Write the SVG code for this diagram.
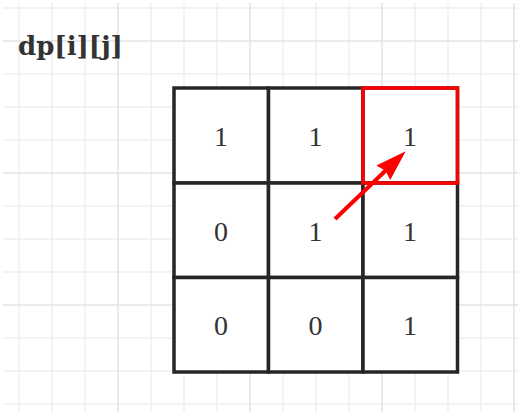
<svg xmlns="http://www.w3.org/2000/svg" width="521" height="415" viewBox="0 0 521 415">
<style>
.minor{stroke:#efefef;stroke-width:1.5;fill:none}
.major{stroke:#e3e3e3;stroke-width:1.5;fill:none}
.cell{fill:#ffffff;stroke:#262626;stroke-width:3.5}
.hot{fill:none;stroke:#ff0000;stroke-width:3.5}
.num{font-family:"Liberation Serif","Times New Roman",serif;font-size:28px;fill:#333333;text-anchor:middle;dominant-baseline:central}
.title{font-family:"DejaVu Serif",serif;font-weight:bold;font-size:26px;fill:#333333}
.arrow{stroke:#ff0000;stroke-width:4;fill:none}
</style>
<defs>
<marker id="head" markerUnits="userSpaceOnUse" viewBox="-6 -11 34 22" refX="0" refY="0" markerWidth="34" markerHeight="22" orient="auto">
<path d="M-4,-10 L27,0 L-4,10 L-1,0 Z" fill="#ff0000"/>
</marker>
</defs>
<rect width="521" height="415" fill="#ffffff"/>
<g id="grid">
<path class="minor" d="M19,3V412M52,3V412M85,3V412M151,3V412M184,3V412M217,3V412M283,3V412M316,3V412M349,3V412M415,3V412M448,3V412M481,3V412M3,8H518M3,74H518M3,107H518M3,140H518M3,206H518M3,239H518M3,272H518M3,338H518M3,371H518M3,404H518"/>
<path class="major" d="M118,3V412M250,3V412M382,3V412M514,3V412M3,41H518M3,173H518M3,305H518"/>
</g>
<text id="title" class="title" x="18" y="55">dp[i][j]</text>
<g id="c00"><rect class="cell" x="174" y="88" width="94.5" height="95"/><text class="num" x="221" y="136">1</text></g>
<g id="c01"><rect class="cell" x="268.5" y="88" width="94.5" height="95"/><text class="num" x="315.5" y="136">1</text></g>
<g id="c02"><rect class="cell" x="363" y="88" width="94.5" height="95"/><text class="num" x="410" y="136">1</text></g>
<g id="c10"><rect class="cell" x="174" y="183" width="94.5" height="94.5"/><text class="num" x="221" y="231">0</text></g>
<g id="c11"><rect class="cell" x="268.5" y="183" width="94.5" height="94.5"/><text class="num" x="315.5" y="231">1</text></g>
<g id="c12"><rect class="cell" x="363" y="183" width="94.5" height="94.5"/><text class="num" x="410" y="231">1</text></g>
<g id="c20"><rect class="cell" x="174" y="277.5" width="94.5" height="94.5"/><text class="num" x="221" y="325">0</text></g>
<g id="c21"><rect class="cell" x="268.5" y="277.5" width="94.5" height="94.5"/><text class="num" x="315.5" y="325">0</text></g>
<g id="c22"><rect class="cell" x="363" y="277.5" width="94.5" height="94.5"/><text class="num" x="410" y="325">1</text></g>
<rect id="highlight" class="hot" x="363" y="88" width="94.5" height="95"/>
<g id="connectors">
<line class="arrow" x1="335" y1="219" x2="386.2" y2="170" marker-end="url(#head)"/>
</g>
</svg>
